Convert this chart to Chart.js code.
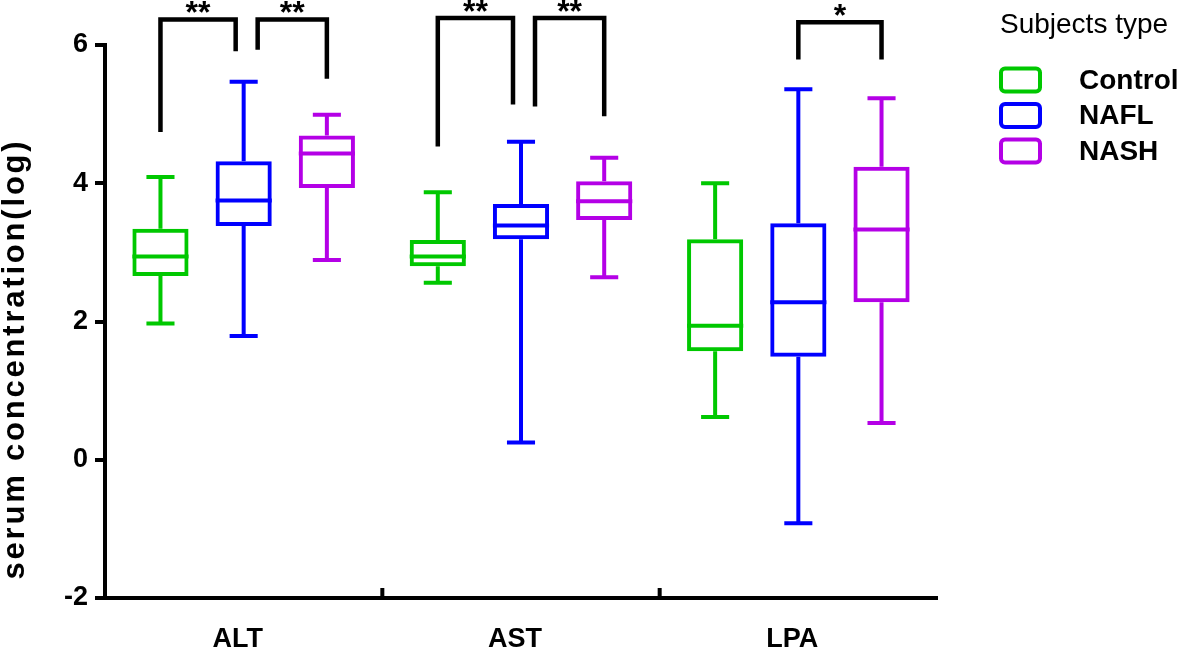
<!DOCTYPE html>
<html>
<head>
<meta charset="utf-8">
<script src="https://cdn.jsdelivr.net/npm/chart.js@4.4.1/dist/chart.umd.min.js"></script>
<style>
  html, body { margin: 0; padding: 0; background: #fff; }
  .graph { width: 1181px; height: 650px; position: relative; }
</style>
</head>
<body>
<div class="graph"><canvas id="myChart"></canvas></div>
<script>
const markers = ['ALT', 'AST', 'LPA']
const groups = ['Control', 'NAFL', 'NASH']
const colors = ['#00c800', '#0000ff', '#b400e6']
const yTicks = [-2, 0, 2, 4, 6]

// box plot values (log), one entry per marker: ALT, AST, LPA
const controlMin = [1.97, 2.56, 0.62]
const controlQ1 = [2.66, 2.80, 1.57]
const controlMedian = [2.94, 2.94, 1.94]
const controlQ3 = [3.34, 3.18, 3.19]
const controlMax = [4.09, 3.87, 4.00]

const naflMin = [1.79, 0.25, -0.92]
const naflQ1 = [3.38, 3.19, 1.49]
const naflMedian = [3.75, 3.39, 2.28]
const naflQ3 = [4.32, 3.70, 3.42]
const naflMax = [5.47, 4.60, 5.36]

const nashMin = [2.89, 2.64, 0.53]
const nashQ1 = [3.93, 3.47, 2.28]
const nashMedian = [4.43, 3.74, 3.33]
const nashQ3 = [4.69, 4.03, 4.24]
const nashMax = [4.99, 4.37, 5.23]

// significance brackets
const bracketMarker = [0, 0, 1, 1, 2]
const bracketFrom = [0, 1, 0, 1, 1]
const bracketTo = [1, 2, 1, 2, 2]
const bracketTop = [6.37, 6.37, 6.39, 6.39, 6.33]
const bracketFromEnd = [4.74, 5.93, 4.53, 5.11, 5.79]
const bracketToEnd = [5.91, 5.51, 5.14, 4.97, 5.79]
const bracketLabel = ['**', '**', '**', '**', '*']

const FONT = "'Liberation Sans', Arial, Helvetica, sans-serif"
Chart.defaults.font.family = FONT
Chart.defaults.color = '#000'

function makeSet(i, mins, q1, med, q3, maxs) {
    return {
        label: groups[i],
        data: q1.map((v, j) => [v, q3[j]]),
        mins: mins,
        medians: med,
        maxs: maxs,
        backgroundColor: 'rgba(0,0,0,0)',
        borderColor: colors[i],
        borderWidth: 4,
        borderSkipped: false,
        categoryPercentage: 0.9,
        barPercentage: 0.675
    }
}

const boxPlot = {
    id: 'boxPlot',
    afterDatasetsDraw(chart) {
        const ctx = chart.ctx
        const y = chart.scales.y
        chart.data.datasets.forEach((ds, i) => {
            const meta = chart.getDatasetMeta(i)
            meta.data.forEach((bar, j) => {
                const x = bar.x
                const half = bar.width / 2
                const cap = bar.width / 4
                const top = y.getPixelForValue(ds.data[j][1])
                const bottom = y.getPixelForValue(ds.data[j][0])
                const med = y.getPixelForValue(ds.medians[j])
                const hi = y.getPixelForValue(ds.maxs[j])
                const lo = y.getPixelForValue(ds.mins[j])
                ctx.save()
                ctx.strokeStyle = ds.borderColor
                ctx.lineWidth = 4
                ctx.beginPath()
                ctx.moveTo(x - half, med); ctx.lineTo(x + half, med)
                ctx.moveTo(x, top); ctx.lineTo(x, hi)
                ctx.moveTo(x - cap, hi); ctx.lineTo(x + cap, hi)
                ctx.moveTo(x, bottom); ctx.lineTo(x, lo)
                ctx.moveTo(x - cap, lo); ctx.lineTo(x + cap, lo)
                ctx.stroke()
                ctx.restore()
            })
        })
    },
    afterDraw(chart) {
        const ctx = chart.ctx
        const {x, y} = chart.scales
        const area = chart.chartArea

        // inward tick marks between categories
        ctx.save()
        ctx.strokeStyle = '#000'
        ctx.lineWidth = 4
        ctx.beginPath()
        for (let i = 0; i < markers.length - 1; i++) {
            const bx = (x.getPixelForValue(i) + x.getPixelForValue(i + 1)) / 2
            ctx.moveTo(bx, area.bottom)
            ctx.lineTo(bx, area.bottom - 10)
        }
        ctx.stroke()

        // significance brackets
        ctx.lineWidth = 4.5
        ctx.lineJoin = 'miter'
        ctx.font = 'bold 32px ' + FONT
        ctx.textAlign = 'center'
        ctx.textBaseline = 'alphabetic'
        ctx.fillStyle = '#000'
        for (let k = 0; k < bracketLabel.length; k++) {
            const m = bracketMarker[k]
            const a = chart.getDatasetMeta(bracketFrom[k]).data[m]
            const b = chart.getDatasetMeta(bracketTo[k]).data[m]
            const shared = bracketLabel.some((_, o) => o !== k && bracketMarker[o] === m &&
                (bracketTo[o] === bracketFrom[k] || bracketFrom[o] === bracketTo[k]))
            let x1 = a.x, x2 = b.x
            if (shared && bracketFrom[k] === 1) x1 += 14
            if (shared && bracketTo[k] === 1) x2 -= 8
            const yt = y.getPixelForValue(bracketTop[k])
            ctx.beginPath()
            ctx.moveTo(x1, y.getPixelForValue(bracketFromEnd[k]))
            ctx.lineTo(x1, yt)
            ctx.lineTo(x2, yt)
            ctx.lineTo(x2, y.getPixelForValue(bracketToEnd[k]))
            ctx.stroke()
            ctx.fillText(bracketLabel[k], (x1 + x2) / 2, yt + 4)
        }

        // y axis title
        ctx.save()
        ctx.translate(15, 359)
        ctx.rotate(-Math.PI / 2)
        ctx.font = 'bold 31px ' + FONT
        ctx.letterSpacing = '2.8px'
        ctx.textAlign = 'center'
        ctx.textBaseline = 'middle'
        ctx.fillText('serum concentration(log)', 0, 0)
        ctx.restore()

        // legend
        ctx.textAlign = 'left'
        ctx.textBaseline = 'alphabetic'
        ctx.font = '28px ' + FONT
        ctx.fillText('Subjects type', 1000, 33)
        ctx.font = 'bold 28px ' + FONT
        ctx.textBaseline = 'middle'
        groups.forEach((g, i) => {
            const cy = 80 + i * 35.5
            ctx.strokeStyle = colors[i]
            ctx.lineWidth = 4
            ctx.beginPath()
            ctx.roundRect(1001, cy - 11.5, 39, 23, 4)
            ctx.stroke()
            ctx.fillText(g, 1079, cy + 1)
        })
        ctx.restore()
    }
}

const chart = new Chart(document.getElementById('myChart'), {
    type: 'bar',
    data: {
        labels: markers,
        datasets: [
            makeSet(0, controlMin, controlQ1, controlMedian, controlQ3, controlMax),
            makeSet(1, naflMin, naflQ1, naflMedian, naflQ3, naflMax),
            makeSet(2, nashMin, nashQ1, nashMedian, nashQ3, nashMax)
        ]
    },
    options: {
        responsive: true,
        maintainAspectRatio: false,
        animation: false,
        layout: { padding: { left: 0, right: 244, top: 45, bottom: 0 } },
        plugins: {
            legend: { display: false },
            tooltip: { enabled: false }
        },
        scales: {
            x: {
                ticks: { color: '#000', font: { size: 27, weight: 'bold' }, labelOffset: -6, padding: 25 },
                grid: { display: false, drawTicks: false },
                border: { width: 4, color: '#000' },
                afterFit(scale) { scale.height = 52 }
            },
            y: {
                min: yTicks[0],
                max: yTicks[yTicks.length - 1],
                afterBuildTicks(scale) { scale.ticks = yTicks.map(v => ({ value: v })) },
                ticks: { color: '#000', font: { size: 27, weight: 'bold' }, padding: 7 },
                grid: { drawOnChartArea: false, tickLength: 10, lineWidth: 4, color: '#000' },
                border: { width: 4, color: '#000' },
                afterFit(scale) { scale.width = 105 }
            }
        }
    },
    plugins: [boxPlot]
})
</script>
</body>
</html>
